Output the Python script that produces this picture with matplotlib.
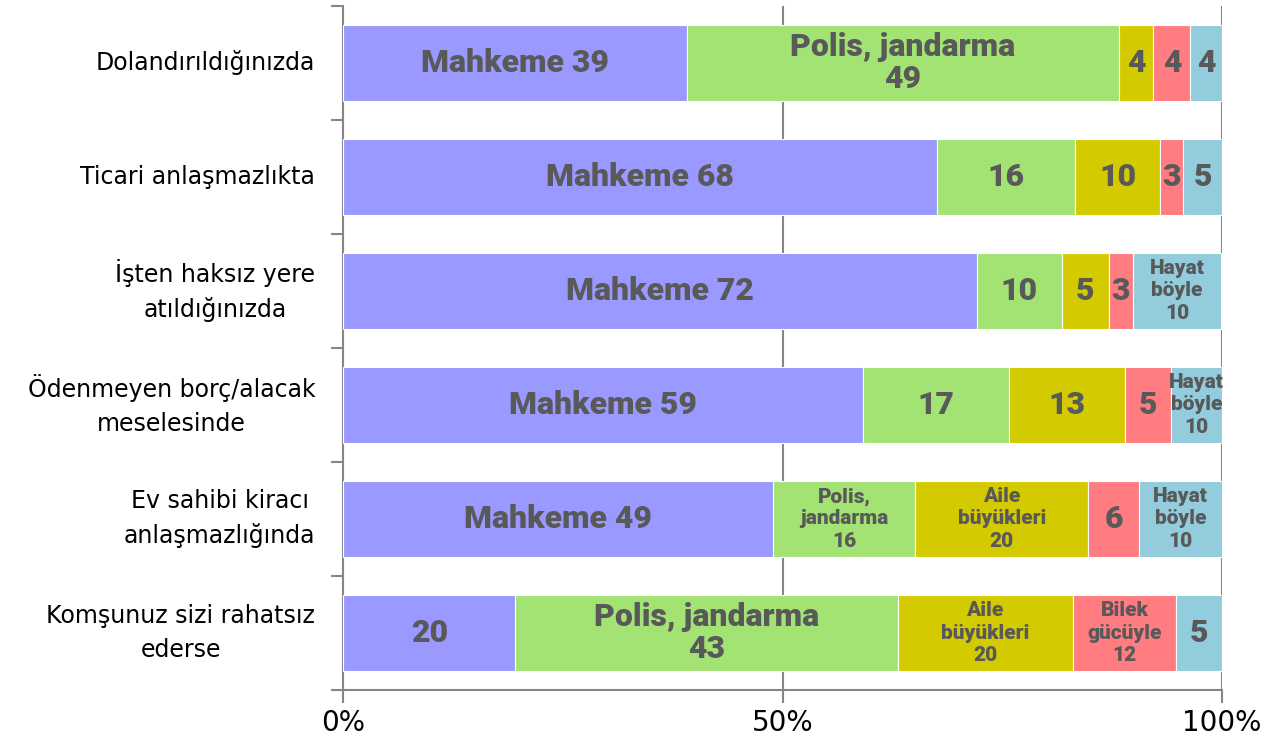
import numpy as np
import matplotlib.pyplot as plt

# rows (top to bottom)
categories = ["Dolandırıldığınızda", "Ticari anlaşmazlıkta", "İşten haksız yere\natıldığınızda",
              "Ödenmeyen borç/alacak\nmeselesinde", "Ev sahibi kiracı\nanlaşmazlığında",
              "Komşunuz sizi rahatsız\nederse"]
series = ["Mahkeme", "Polis, jandarma", "Aile büyükleri", "Bilek gücüyle", "Hayat böyle"]
wrapped = ["Mahkeme", "Polis,\njandarma", "Aile\nbüyükleri", "Bilek\ngücüyle", "Hayat\nböyle"]
colors = ["#9999FF", "#A2E374", "#D3CB00", "#FF7C80", "#93CDDD"]

# bar widths (share of row, %) as drawn
mahkeme = [39.1, 67.6, 72.1, 59.2, 48.9, 19.6]
polis = [49.2, 15.7, 9.7, 16.6, 16.2, 43.5]
aile = [3.9, 9.7, 5.3, 13.2, 19.7, 19.9]
bilek = [4.2, 2.6, 2.8, 5.2, 5.7, 11.8]
hayat = [3.6, 4.4, 10.0, 5.8, 9.6, 5.2]

# printed numbers in the labels
lab_mahkeme = [39, 68, 72, 59, 49, 20]
lab_polis = [49, 16, 10, 17, 16, 43]
lab_aile = [4, 10, 5, 13, 20, 20]
lab_bilek = [4, 3, 3, 5, 6, 12]
lab_hayat = [4, 5, 10, 10, 10, 5]

# label style: n = number, i = "Name N", b = "Name\nN", s = small wrapped
styles = [["i", "b", "n", "n", "n"],
          ["i", "n", "n", "n", "n"],
          ["i", "n", "n", "n", "s"],
          ["i", "n", "n", "n", "s"],
          ["i", "s", "s", "n", "s"],
          ["n", "b", "s", "s", "n"]]

widths = np.array([mahkeme, polis, aile, bilek, hayat])
labels = np.array([lab_mahkeme, lab_polis, lab_aile, lab_bilek, lab_hayat])

fig = plt.figure(figsize=(12.72, 7.38), dpi=100)
ax = fig.add_axes([0.2697, 0.065, 0.691, 0.927])

y = np.arange(len(categories))
left = np.zeros(len(categories))
for j in range(len(series)):
    ax.barh(y, widths[j], left=left, height=0.66, color=colors[j],
            edgecolor="white", linewidth=0.8, zorder=3)
    for i in range(len(categories)):
        st = styles[i][j]
        v = labels[j][i]
        cx = left[i] + widths[j][i] / 2
        if st == "n":
            txt, fs = str(v), 23
        elif st == "i":
            txt, fs = f"{series[j]} {v}", 23
        elif st == "b":
            txt, fs = f"{series[j]}\n{v}", 23
        else:
            txt, fs = f"{wrapped[j]}\n{v}", 15
        ax.text(cx, i, txt, ha="center", va="center", fontsize=fs, family="Roboto",
                fontweight="black", color="#595959",
                linespacing=1.1 if fs > 18 else 1.22, zorder=4)
    left += widths[j]

ax.set_xlim(0, 100)
ax.set_ylim(len(categories) - 0.5, -0.5)
ax.set_xticks([0, 50, 100])
ax.set_xticklabels(["0%", "50%", "100%"], fontsize=20)
ax.set_yticks(y)
ax.set_yticklabels(categories, fontsize=17, linespacing=1.5, multialignment="center")
for lbl in ax.get_yticklabels():
    lbl.set_verticalalignment("center")
ax.set_yticks(np.arange(-0.5, len(categories), 1), minor=True)
ax.tick_params(axis="y", which="major", length=0, pad=20)
ax.tick_params(axis="y", which="minor", length=9, width=1.5, color="#868686")
ax.tick_params(axis="x", length=9, width=1.5, color="#868686", pad=5)
ax.xaxis.grid(True, color="#868686", linewidth=1.5, zorder=0)
for s in ["top", "right"]:
    ax.spines[s].set_visible(False)
for s in ["left", "bottom"]:
    ax.spines[s].set_color("#868686")
    ax.spines[s].set_linewidth(1.5)

fig.savefig("out.png", dpi=100)
